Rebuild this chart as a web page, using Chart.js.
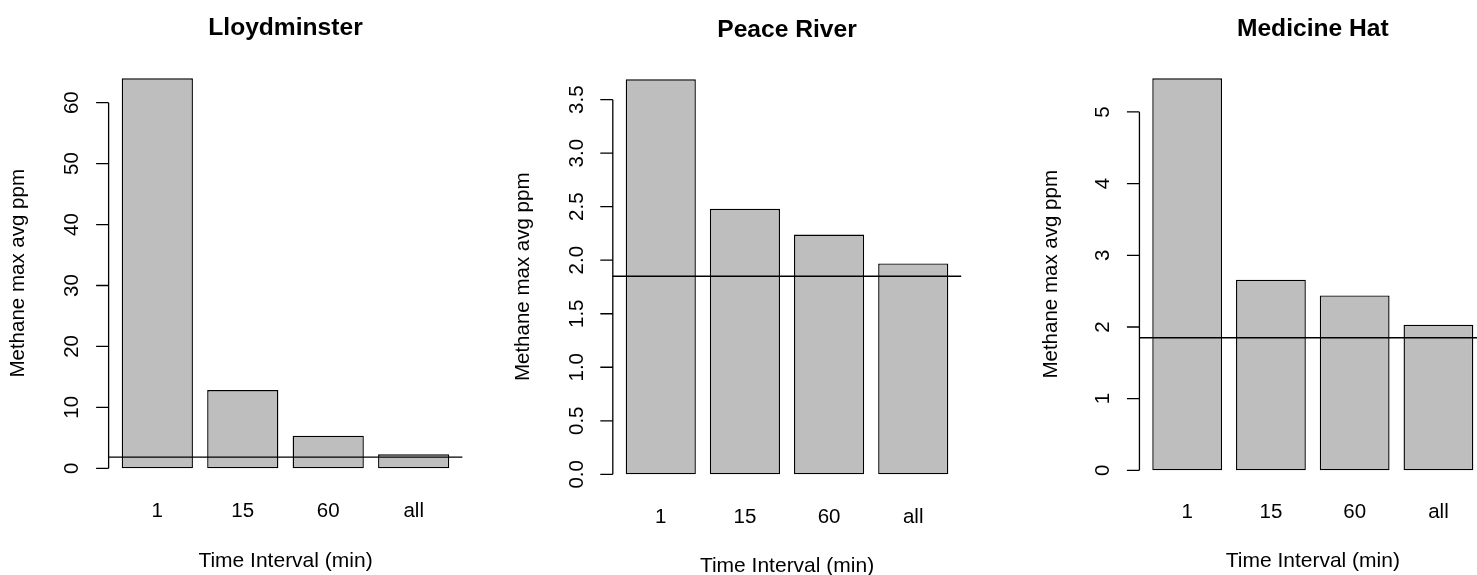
<!DOCTYPE html>
<html>
<head>
<meta charset="utf-8">
<title>Methane max average by time interval</title>
<script src="https://cdn.jsdelivr.net/npm/chart.js@4/dist/chart.umd.min.js"></script>
<style>
  html, body { margin: 0; padding: 0; background: #fff; overflow: hidden; width: 1477px; height: 575px; }
  #wrap { position: relative; width: 1477px; height: 575px; overflow: hidden; }
  canvas { position: absolute; top: 0; }
</style>
</head>
<body>
<div id="wrap">
  <canvas id="lloydminster" width="495" height="600" style="left:0px"></canvas>
  <canvas id="peaceRiver" width="505" height="600" style="left:495px"></canvas>
  <canvas id="medicineHat" width="500" height="600" style="left:1000px"></canvas>
</div>
<script>
// Averaging intervals (minutes) shown on every panel
const intervals = ['1', '15', '60', 'all'];

// Maximum averaged methane concentration (ppm) per interval
const lloydminsterValues = [64.0, 12.85, 5.35, 2.3];
const peaceRiverValues   = [3.69, 2.48, 2.24, 1.97];
const medicineHatValues  = [5.47, 2.66, 2.44, 2.03];

// Y-axis tick values and their labels
const lloydminsterTicks = [0, 10, 20, 30, 40, 50, 60];
const lloydminsterTickLabels = ['0', '10', '20', '30', '40', '50', '60'];
const peaceRiverTicks = [0, 0.5, 1.0, 1.5, 2.0, 2.5, 3.0, 3.5];
const peaceRiverTickLabels = ['0.0', '0.5', '1.0', '1.5', '2.0', '2.5', '3.0', '3.5'];
const medicineHatTicks = [0, 1, 2, 3, 4, 5];
const medicineHatTickLabels = ['0', '1', '2', '3', '4', '5'];

// Global background methane level (ppm), drawn as a horizontal reference line
const backgroundLevel = 1.85;

const FONT_FAMILY = '"Liberation Sans", Arial, Helvetica, sans-serif';
const TICK_SIZE = 20.5;
const X_TITLE_SIZE = 21;
const Y_TITLE_SIZE = 20.5;
const TITLE_SIZE = 24.6;
const CANVAS_H = 600;

Chart.defaults.font.family = FONT_FAMILY;
Chart.defaults.font.size = TICK_SIZE;
Chart.defaults.color = '#000';

function widestLabel(labels) {
  const ctx = document.createElement('canvas').getContext('2d');
  ctx.font = TICK_SIZE + 'px ' + FONT_FAMILY;
  return Math.max(...labels.map(l => ctx.measureText(l).width));
}

// Base-graphics style axis: line spans first..last tick, placed at the
// 4%-extended plot edge; plus the reference level across the plot region.
const baseAxisPlugin = {
  id: 'baseAxis',
  afterDatasetsDraw(chart, args, opts) {
    const { ctx, chartArea, scales: { y } } = chart;
    const n = chart.data.labels.length;
    const unit = (chartArea.right - chartArea.left) / (n * 1.2);
    const ext = (0.04 * (n * 1.2 - 0.2) - 0.1) * unit;
    const left = chartArea.left - ext;
    const right = chartArea.right + ext;
    ctx.save();
    ctx.strokeStyle = '#000';
    ctx.lineWidth = 1.3;
    const yRef = y.getPixelForValue(opts.level);
    ctx.beginPath();
    ctx.moveTo(left, yRef);
    ctx.lineTo(right, yRef);
    ctx.stroke();
    const ticks = y.ticks;
    const yTop = y.getPixelForValue(ticks[ticks.length - 1].value);
    const yBot = y.getPixelForValue(ticks[0].value);
    ctx.beginPath();
    ctx.moveTo(left, yTop);
    ctx.lineTo(left, yBot);
    ticks.forEach(t => {
      const p = y.getPixelForValue(t.value);
      ctx.moveTo(left - opts.tickLength, p);
      ctx.lineTo(left, p);
    });
    ctx.stroke();
    ctx.restore();
  }
};

function makePanel(id, title, values, tickValues, tickLabels, geo) {
  const yW = geo.chartLeft - geo.left;
  const rightPad = geo.left + geo.width - geo.chartRight;
  const titleLine = TITLE_SIZE * 1.2;
  const titlePadTop = geo.titleMid - titleLine / 2;
  const titlePadBottom = geo.chartTop - titlePadTop - titleLine;
  const xH = CANVAS_H - geo.chartBottom;
  const xTitlePadBottom = CANVAS_H - geo.xTitleMid - X_TITLE_SIZE * 0.6;
  const yTitlePadTop = (geo.yTitleMid - geo.left) - Y_TITLE_SIZE * 0.6;
  const yTickPad = geo.chartLeft - geo.yLabelMid - widestLabel(tickLabels) / 2;
  const top = Math.max(...values);

  return new Chart(document.getElementById(id), {
    type: 'bar',
    data: {
      labels: intervals,
      datasets: [{
        data: values,
        backgroundColor: '#bebebe',
        borderColor: '#000',
        borderWidth: 1.4,
        borderSkipped: false,
        categoryPercentage: 1 / 1.2,
        barPercentage: 1
      }]
    },
    options: {
      responsive: false,
      animation: false,
      events: [],
      layout: { padding: { left: 0, top: 0, bottom: 0, right: rightPad } },
      plugins: {
        legend: { display: false },
        tooltip: { enabled: false },
        title: {
          display: true,
          text: title,
          fullSize: false,
          font: { size: TITLE_SIZE, weight: 'bold' },
          padding: { top: titlePadTop, bottom: titlePadBottom }
        },
        baseAxis: { level: backgroundLevel, tickLength: 12.5 }
      },
      scales: {
        x: {
          type: 'category',
          offset: true,
          grid: { display: false, drawTicks: false },
          border: { display: false },
          ticks: { padding: geo.xTickPad - (TICK_SIZE - 20) * 0.6, font: { size: TICK_SIZE } },
          title: {
            display: true,
            text: 'Time Interval (min)',
            font: { size: X_TITLE_SIZE },
            padding: { top: 0, bottom: xTitlePadBottom }
          },
          afterFit(scale) { scale.height = xH; }
        },
        y: {
          type: 'linear',
          min: -0.04 * top,
          max: 1.04 * top,
          grid: { display: false, drawTicks: false },
          border: { display: false },
          ticks: {
            autoSkip: false,
            minRotation: 90,
            maxRotation: 90,
            crossAlign: 'center',
            padding: yTickPad,
            font: { size: TICK_SIZE },
            callback: (v, i) => tickLabels[i]
          },
          afterBuildTicks(scale) { scale.ticks = tickValues.map(v => ({ value: v })); },
          title: {
            display: true,
            text: 'Methane max avg ppm',
            font: { size: Y_TITLE_SIZE },
            padding: { top: yTitlePadTop, bottom: 0 }
          },
          afterFit(scale) { scale.width = yW; }
        }
      }
    },
    plugins: [baseAxisPlugin]
  });
}

makePanel('lloydminster', 'Lloydminster', lloydminsterValues, lloydminsterTicks, lloydminsterTickLabels, {
  left: 0, width: 495, chartLeft: 114.6, chartRight: 456.4, chartTop: 62.7, chartBottom: 483.9,
  titleMid: 28.6, xTickPad: 15.1, xTitleMid: 560.8, yTitleMid: 17.9, yLabelMid: 72.1
});
makePanel('peaceRiver', 'Peace River', peaceRiverValues, peaceRiverTicks, peaceRiverTickLabels, {
  left: 495, width: 505, chartLeft: 618.7, chartRight: 955.3, chartTop: 63.5, chartBottom: 490.1,
  titleMid: 29.9, xTickPad: 15.7, xTitleMid: 566.1, yTitleMid: 522.9, yLabelMid: 577.1
});
makePanel('medicineHat', 'Medicine Hat', medicineHatValues, medicineHatTicks, medicineHatTickLabels, {
  left: 1000, width: 500, chartLeft: 1145.3, chartRight: 1480.3, chartTop: 62.6, chartBottom: 486,
  titleMid: 29.3, xTickPad: 14.1, xTitleMid: 561.1, yTitleMid: 1051.3, yLabelMid: 1103.8
});
</script>
</body>
</html>
